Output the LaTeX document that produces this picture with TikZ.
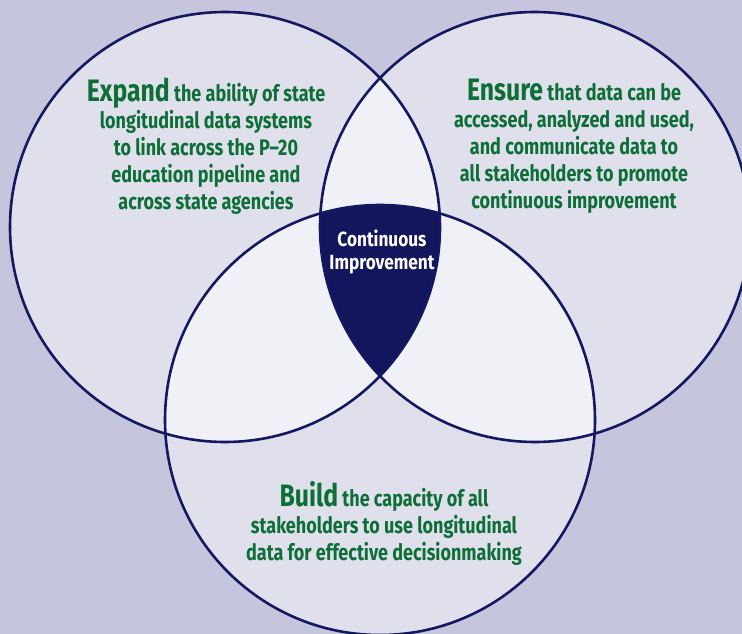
\documentclass[tikz,border=0pt]{standalone}
\usepackage{fontspec}
\newfontfamily\vennfont{Fira Sans}[FakeStretch=0.8]
\newfontfamily\corefont{Fira Sans}[FakeStretch=0.84]
\definecolor{vennbg}{HTML}{C5C6DD}
\definecolor{vennfill}{HTML}{E0E0EC}
\definecolor{vennpair}{HTML}{F0F0F7}
\definecolor{venncore}{HTML}{13165C}
\definecolor{vennline}{HTML}{141860}
\definecolor{venngreen}{HTML}{0D6E37}
\newcommand\headword[1]{{\fontsize{31}{27}\selectfont #1}}
\tikzset{
  ring/.style={draw=vennline,line width=2.6pt},
  goal/.style={text=venngreen,align=center,inner sep=0pt,
    font=\vennfont\bfseries\fontsize{22.5}{27}\selectfont},
  coretext/.style={text=white,align=center,inner sep=0pt,
    font=\corefont\bfseries\fontsize{20.5}{23}\selectfont}
}
\begin{document}
\begin{tikzpicture}[x=1pt,y=-1pt]
				% page and background
				\useasboundingbox (0,0) rectangle (742,634);
				\fill[vennbg] (0,0) rectangle (742,634);
				
				% circle centres
				\coordinate (cl) at (225,227);
				\coordinate (cr) at (535,227);
				\coordinate (cb) at (380,420);
				
				% plain circles
				\foreach \c in {cl,cr,cb}
				\fill[vennfill] (\c) circle[radius=215];
				
				% pairwise overlaps
				\begin{scope}
					\clip (cl) circle[radius=215];
					\fill[vennpair] (cr) circle[radius=215];
					\fill[vennpair] (cb) circle[radius=215];
				\end{scope}
				\begin{scope}
					\clip (cr) circle[radius=215];
					\fill[vennpair] (cb) circle[radius=215];
				\end{scope}
				
				% centre where all three meet
				\begin{scope}
					\clip (cl) circle[radius=215];
					\clip (cr) circle[radius=215];
					\fill[venncore] (cb) circle[radius=215];
				\end{scope}
				
				% outlines
				\foreach \c in {cl,cr,cb}
				\draw[ring] (\c) circle[radius=215];
				
				% texts
				\node[goal] (expand) at (206,146) {\headword{Expand} the ability of state\\longitudinal data systems\\to link across the P\textendash20\\education pipeline and\\across state agencies};
				\node[goal] (ensure) at (574,146) {\headword{Ensure} that data can be\\accessed, analyzed and used,\\and communicate data to\\all stakeholders to promote\\continuous improvement};
				\node[goal] (build) at (384,523) {\headword{Build} the capacity of all\\stakeholders to use longitudinal\\data for effective decisionmaking};
				\node[coretext] (core) at (382,252) {Continuous\\Improvement};
			\end{tikzpicture}
\end{document}
